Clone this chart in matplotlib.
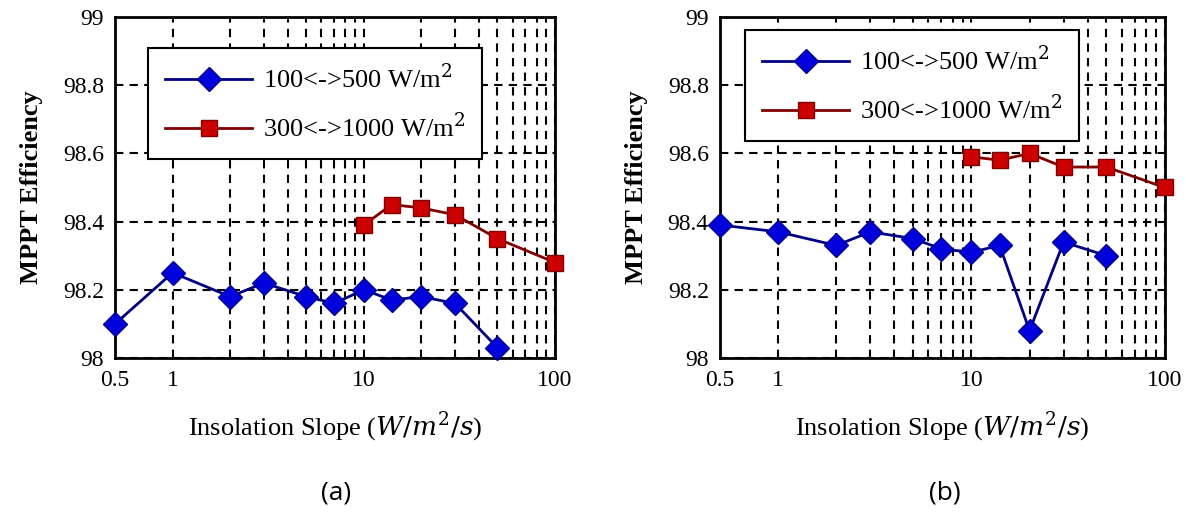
import matplotlib.pyplot as plt
from matplotlib.ticker import FixedLocator, NullFormatter

plt.rcParams['font.family'] = ['Liberation Serif', 'DejaVu Serif']
plt.rcParams['mathtext.fontset'] = 'dejavuserif'

# panel (a)
slope_lo = [0.5, 1, 2, 3, 5, 7, 10, 14, 20, 30, 50]
eff_lo_a = [98.10, 98.25, 98.18, 98.22, 98.18, 98.16, 98.20, 98.17, 98.18, 98.16, 98.03]
slope_hi = [10, 14, 20, 30, 50, 100]
eff_hi_a = [98.39, 98.45, 98.44, 98.42, 98.35, 98.28]

# panel (b)
eff_lo_b = [98.39, 98.37, 98.33, 98.37, 98.35, 98.32, 98.31, 98.33, 98.08, 98.34, 98.30]
eff_hi_b = [98.59, 98.58, 98.60, 98.56, 98.56, 98.50]

label_lo = '100<->500 W/m$^2$'
label_hi = '300<->1000 W/m$^2$'
yticks = [98, 98.2, 98.4, 98.6, 98.8, 99]
ytick_labels = ['98', '98.2', '98.4', '98.6', '98.8', '99']
xticks = [0.5, 1, 10, 100]
xtick_labels = ['0.5', '1', '10', '100']
minor_x = [k * 10 ** e for e in (0, 1) for k in range(2, 10)]

fig = plt.figure(figsize=(11.86, 5.23), dpi=100)
ax_a = fig.add_axes([0.097, 0.3155, 0.371, 0.652])
ax_b = fig.add_axes([0.607, 0.3155, 0.375, 0.652])


def draw(ax, lo, hi, legend_anchor):
    ax.plot(slope_lo, lo, color='#000080', lw=2, marker='D', ms=12,
            mfc='#0000dd', mec='#000088', label=label_lo, zorder=3, clip_on=False)
    ax.plot(slope_hi, hi, color='#800000', lw=2, marker='s', ms=12,
            mfc='#cc0000', mec='#800000', label=label_hi, zorder=3, clip_on=False)
    ax.set_xscale('log')
    ax.set_xlim(0.5, 100)
    ax.set_ylim(98, 99)
    ax.set_xticks(xticks)
    ax.set_xticklabels(xtick_labels)
    ax.xaxis.set_minor_locator(FixedLocator(minor_x))
    ax.xaxis.set_minor_formatter(NullFormatter())
    ax.set_yticks(yticks)
    ax.set_yticklabels(ytick_labels)
    ax.tick_params(which='both', length=0, labelsize=17)
    ax.tick_params(axis='x', pad=9)
    ax.tick_params(axis='y', pad=8)
    ax.grid(True, which='both', axis='x', color='black', ls=(0, (4, 3)), lw=1.5)
    ax.grid(True, which='major', axis='y', color='black', ls=(0, (4, 3)), lw=1.5)
    for s in ax.spines.values():
        s.set_linewidth(2)
    ax.set_ylabel('MPPT Efficiency', fontsize=19, fontweight='bold', labelpad=14)
    ax.set_xlabel('Insolation Slope ($W/m^2/s$)', fontsize=19, labelpad=14)
    leg = ax.legend(loc='upper left', bbox_to_anchor=legend_anchor, fontsize=19,
                    fancybox=False, framealpha=1, edgecolor='black',
                    handlelength=3.3, borderpad=0.65, labelspacing=0.75,
                    handletextpad=0.4, borderaxespad=0)
    leg.get_frame().set_linewidth(1.5)


draw(ax_a, eff_lo_a, eff_hi_a, (0.075, 0.909))
draw(ax_b, eff_lo_b, eff_hi_b, (0.056, 0.962))

fig.text(0.283, 0.045, '(a)', fontsize=19, family='Open Sans', ha='center')
fig.text(0.797, 0.045, '(b)', fontsize=19, family='Open Sans', ha='center')

fig.savefig('out.png', dpi=100)
